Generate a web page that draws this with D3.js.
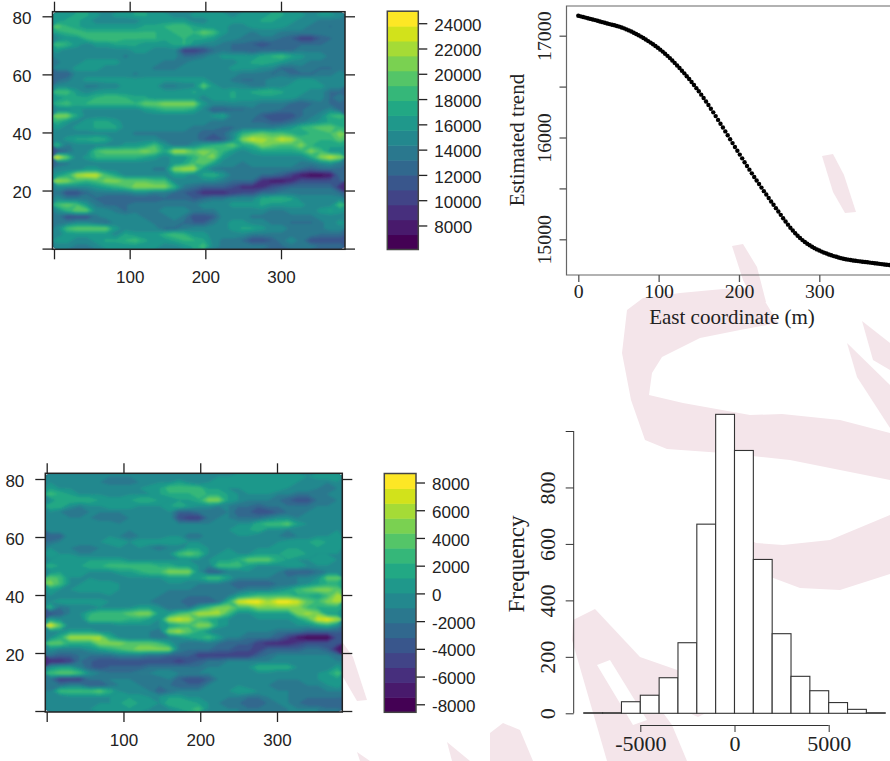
<!DOCTYPE html>
<html>
<head>
<meta charset="utf-8">
<script src="https://cdn.jsdelivr.net/npm/d3@7"></script>
<style>
html,body{margin:0;padding:0;background:#fff;overflow:hidden}
svg{display:block}
</style>
</head>
<body>
<svg id="fig" width="890" height="761"></svg>
<script>
// estimated field, values in thousands, top row is north
var fieldValues = [
[16,16,17,17,16,15,16,16,17,17,16,16,15,15,16,16,16,16,15,16,16,16,17,17,16,16,15,16,16,15],
[16,17,17,16,15,15,15,15,15,16,16,16,16,16,15,15,16,16,16,16,16,17,17,16,16,15,15,14,14,14],
[20,18,17,16,16,16,16,16,16,17,17,18,19,19,17,16,16,16,15,15,16,16,16,16,15,15,14,14,13,14],
[17,18,19,18,18,18,18,18,18,18,18,17,18,18,18,20,19,16,15,15,14,15,15,14,14,14,14,14,14,14],
[15,16,16,18,19,19,19,18,18,18,18,17,17,18,17,17,16,15,15,14,14,14,14,13,12,10,10,12,13,14],
[19,18,16,15,16,16,17,17,17,16,16,16,17,18,16,15,15,14,13,13,12,11,12,13,13,13,13,13,14,14],
[16,15,15,15,15,15,15,15,16,16,15,15,15,10,10,11,13,14,13,13,12,13,13,13,13,14,14,14,14,14],
[15,15,15,15,15,15,15,14,15,15,15,15,15,13,13,14,15,16,16,16,16,17,18,19,17,16,15,15,14,14],
[14,15,15,16,16,16,16,15,15,15,15,14,14,14,15,15,15,15,15,16,17,18,17,16,15,15,14,14,14,14],
[15,15,16,16,16,15,15,15,15,15,14,14,14,15,15,15,15,15,16,16,16,15,15,13,13,14,14,13,13,14],
[12,12,15,15,15,15,15,15,14,15,15,15,15,15,15,15,15,15,15,14,14,14,13,14,13,13,13,14,14,15],
[13,14,15,16,16,16,16,16,16,16,16,16,16,16,16,16,15,15,14,13,13,14,15,15,15,16,16,15,15,15],
[15,15,15,14,14,15,15,16,16,16,16,14,14,15,15,20,16,15,15,15,14,14,15,15,16,16,16,16,15,15],
[19,19,16,15,16,16,16,16,16,16,16,16,16,16,17,16,16,16,17,16,17,18,18,17,16,16,15,15,13,13],
[16,17,17,17,18,19,19,18,17,17,16,16,16,16,16,15,16,16,17,16,16,16,16,16,16,15,15,15,13,14],
[18,19,17,18,18,18,18,18,18,20,20,21,21,21,21,16,15,15,15,15,15,14,14,14,13,12,13,14,13,13],
[15,15,16,15,15,15,15,15,15,16,17,18,18,18,17,15,12,12,13,13,14,14,14,13,13,13,14,14,15,13],
[21,21,17,15,15,15,15,15,15,15,15,15,15,15,15,15,16,17,14,14,14,12,11,11,11,13,14,15,18,19],
[18,16,15,16,17,17,16,15,15,15,15,15,15,15,15,15,14,14,14,14,13,13,12,12,13,14,15,16,17,17],
[16,15,16,16,17,17,17,15,15,15,15,15,15,15,14,14,14,13,13,14,14,14,14,15,16,18,19,20,20,18],
[15,15,15,15,15,15,15,15,14,14,14,14,14,14,14,12,12,13,15,18,19,20,19,19,18,17,18,18,19,21],
[15,16,17,17,18,17,15,15,15,15,15,14,14,14,14,12,11,12,15,21,23,22,21,23,22,19,18,18,18,20],
[18,14,15,15,15,15,15,16,16,17,19,16,14,14,15,17,18,19,20,17,18,21,20,19,19,21,18,17,17,17],
[11,13,15,15,19,20,20,20,20,21,20,17,22,22,20,21,20,18,16,15,16,17,17,17,17,18,21,19,16,16],
[24,20,15,16,18,18,18,18,18,17,16,15,16,16,18,20,21,16,15,15,15,15,15,15,15,15,17,21,23,21],
[13,14,15,15,15,15,15,15,15,15,15,15,16,17,19,20,17,15,15,14,15,15,15,15,15,14,14,15,16,14],
[15,15,15,16,16,15,15,15,15,15,14,14,21,22,22,16,14,14,14,14,14,14,14,14,14,13,12,13,13,13],
[16,18,22,23,23,19,17,15,15,15,15,15,16,16,15,17,18,16,14,14,14,13,13,12,10,8,7,7,8,13],
[22,21,19,18,19,21,21,20,20,20,19,19,15,15,15,15,15,14,13,13,13,9,8,8,9,11,11,11,11,12],
[15,15,15,15,16,17,18,19,21,21,21,21,18,14,13,12,12,12,11,9,9,9,11,12,13,13,13,13,13,9],
[14,11,11,13,14,14,14,14,15,15,14,14,13,12,11,9,9,9,10,11,11,13,13,14,14,14,14,14,14,13],
[15,14,14,14,13,12,12,12,12,12,12,13,13,13,12,13,14,14,15,15,15,17,18,18,17,15,15,15,15,15],
[19,20,19,16,14,13,13,13,14,14,14,14,14,14,14,15,15,15,16,16,16,17,16,16,16,16,15,15,15,19],
[15,18,20,20,15,15,14,13,14,14,14,15,15,15,14,14,14,15,15,15,15,15,14,14,15,15,15,16,17,16],
[14,11,11,11,14,15,15,15,15,14,14,14,15,14,11,11,12,15,15,15,14,14,14,14,14,14,14,15,15,15],
[14,14,15,15,14,13,15,15,15,15,14,14,14,13,12,12,14,15,16,16,15,15,14,14,13,13,13,14,15,16],
[15,19,20,20,20,20,16,15,15,15,15,13,13,14,15,15,15,15,16,17,17,16,15,15,14,14,14,14,15,15],
[15,16,16,16,16,16,15,17,16,16,16,18,19,18,16,16,15,15,15,15,14,14,14,14,14,14,14,13,13,13],
[16,16,15,15,16,17,17,18,19,17,16,16,17,18,18,17,15,14,14,13,11,11,12,14,15,14,11,11,11,11],
[15,15,14,14,15,16,16,16,16,16,16,15,15,16,17,19,15,14,14,14,14,14,13,13,14,14,14,13,13,13]
]
// residual field after removing the trend, thousands
var residValues = [
[0,0,0,0,-1,-1,-1,-1,-1,0,0,-1,-1,-1,-1,0,0,0,0,1,1,1,1,1,1,1,0,1,1,1],
[0,0,-1,-1,-1,-1,-2,-2,-2,-1,-1,0,0,1,0,-1,0,1,1,1,1,1,1,1,1,0,0,-1,-1,0],
[1,0,0,0,0,0,0,0,0,0,1,1,3,3,3,3,1,1,0,0,1,1,1,1,0,0,0,-1,-2,-1],
[3,2,1,0,0,0,-1,-1,0,0,0,1,2,2,2,3,2,2,1,0,0,0,0,-1,-1,-2,-2,-2,-1,-1],
[0,2,2,2,2,1,1,1,1,2,2,1,0,1,1,2,5,5,1,0,-1,-1,-1,-2,-3,-4,-4,-2,-2,-1],
[2,2,0,-1,0,0,1,1,1,0,0,0,1,2,1,0,0,-1,-1,-2,-2,-3,-2,-2,-2,-2,-2,-1,-1,-1],
[0,-1,-2,-2,-1,-1,-1,-1,-1,-1,0,0,0,-3,-3,-2,-2,-2,-1,-3,-3,-4,-4,-3,-2,-2,-1,-1,-1,0],
[0,-1,-1,-1,-1,-2,-2,-2,-1,-1,0,0,0,-4,-5,-5,-2,-1,-1,-2,-2,-2,-1,0,0,-1,-1,-1,0,0],
[-1,-1,-1,0,0,0,0,-1,-1,-1,-1,-1,-1,-1,-1,-1,-1,0,0,0,0,2,3,3,4,1,0,-1,-1,0],
[0,0,0,0,0,0,-1,-1,-1,-1,-1,-1,-1,0,0,0,0,0,0,1,1,2,0,0,-1,-1,-1,-1,-1,0],
[-3,-3,0,0,0,0,0,-1,-2,-1,-1,-1,0,0,-2,-2,0,0,0,0,0,-1,-1,-1,-2,-1,-1,0,0,1],
[-2,-1,0,0,0,0,1,1,0,1,1,1,1,1,0,0,0,0,-1,-1,-1,0,0,0,1,1,1,2,1,1],
[0,0,-1,-2,-2,-1,-1,0,0,0,-1,-2,-1,-1,1,1,0,0,0,0,0,0,0,1,1,1,1,1,1,1],
[1,0,0,-1,-1,-1,-1,-1,0,0,0,0,0,3,4,3,0,0,1,0,0,1,1,1,2,2,1,0,0,0],
[0,1,1,1,1,1,1,1,0,0,0,0,0,0,0,0,0,1,1,2,4,4,4,2,1,0,0,1,1,0],
[2,1,0,1,2,2,3,3,3,3,3,2,2,1,1,0,-1,3,3,3,1,0,0,0,1,1,0,0,0,0],
[0,1,1,1,0,0,0,1,1,2,3,3,5,5,5,0,-3,-3,-1,-1,0,0,0,-1,-3,-3,-3,-2,-1,-1],
[4,3,0,0,0,-1,-1,-1,0,0,0,0,1,1,1,1,3,3,1,-1,-1,-1,-1,-2,-2,-1,-1,0,4,4],
[5,3,0,0,1,1,1,0,0,0,0,0,0,0,-1,-1,-1,-1,-2,-3,-3,-3,-3,-2,-2,-1,0,1,2,2],
[1,0,0,1,1,1,1,0,0,0,-1,-1,-1,-1,-1,-2,-2,-2,-2,-2,-1,-1,-1,0,1,3,4,5,5,4],
[0,-1,-1,-1,-1,-1,0,0,-1,-1,-1,-1,-2,-2,-2,-2,-2,-2,-1,1,2,3,3,3,3,2,2,1,3,6],
[0,1,1,1,1,1,0,-1,-1,-1,-1,-2,-2,-2,-3,-3,-3,-2,2,7,8,8,6,8,8,7,4,3,5,6],
[2,-2,-1,-1,-1,0,0,0,0,1,1,0,-2,-2,-2,1,3,5,5,3,3,5,5,5,5,5,3,2,2,2],
[-4,-3,-1,0,2,3,3,3,4,5,5,1,1,3,4,6,6,6,3,0,0,1,1,1,1,5,6,5,1,1],
[1,0,-1,-1,3,3,3,3,2,2,1,0,6,7,6,3,2,1,0,-1,-1,0,0,0,0,1,3,7,8,6],
[8,4,-1,-1,-1,-1,-1,0,0,0,0,0,1,2,3,5,5,1,0,0,-1,-1,-1,0,0,0,0,1,2,0],
[0,0,1,1,1,0,0,-1,-1,-1,-1,-2,5,6,4,2,0,-1,-1,-1,-1,-1,-1,-2,-2,-2,-3,-3,-3,-3],
[0,2,6,6,6,6,2,0,-1,-1,-1,-2,-1,0,1,2,3,1,-1,-1,-2,-2,-2,-3,-5,-7,-8,-8,-8,-4],
[4,4,2,2,2,5,5,5,4,4,4,3,1,-1,-2,-2,-1,-2,-3,-3,-3,-5,-6,-6,-6,-5,-4,-4,-4,-4],
[0,-1,-1,-1,0,1,2,3,4,5,5,5,5,-1,-2,-2,-2,-3,-3,-4,-4,-5,-3,-3,-3,-3,-2,-2,-3,-7],
[-2,-3,-3,-2,-2,-2,-2,-1,-1,-1,-2,-2,-3,-3,-3,-5,-5,-5,-5,-5,-5,-3,-2,-1,-1,-1,-1,-1,-1,-2],
[-6,-6,-5,-2,-3,-4,-4,-4,-4,-4,-4,-4,-4,-5,-4,-3,-2,-2,-1,-1,-1,-1,-1,-1,-1,-1,-1,-1,-1,-1],
[0,1,1,-1,-3,-4,-3,-3,-3,-3,-2,-2,-2,-2,-2,-2,-1,-1,-1,-1,0,2,2,2,2,0,-1,-1,-1,1],
[3,4,4,3,0,-1,-2,-2,-2,-1,-1,0,0,-1,-1,-1,-1,-1,-1,0,0,0,0,-1,-1,-1,-1,0,1,3],
[-2,-5,-5,-5,-2,-2,-1,-1,-1,-2,-2,-2,-1,-3,-4,-4,-3,-1,-1,-1,-1,-1,-1,-1,-1,-1,-1,0,1,1],
[-2,-2,-1,-1,-3,-3,-2,-1,-1,-1,-2,-2,-2,-3,-3,-3,-1,-1,0,0,-1,-1,-1,-2,-2,-2,-1,-1,0,1],
[-1,3,3,3,3,4,2,0,-1,-1,-1,-3,-2,-1,-1,-1,-1,0,0,1,1,0,-1,-1,-1,-2,-2,-2,-1,-1],
[-1,-1,0,0,0,0,0,1,1,1,0,0,1,1,0,0,-1,-1,-1,-1,-2,-2,-1,-1,-1,-2,-2,-2,-2,-2],
[0,0,-1,-1,0,0,0,1,2,1,1,0,2,2,2,1,0,-1,-2,-2,-3,-3,-2,-1,-1,-2,-3,-3,-3,-3],
[-1,0,0,0,0,1,1,1,1,1,0,0,0,1,2,3,0,-1,-1,-1,-2,-2,-2,-2,-1,-1,-1,-1,-2,-2]
]

var mapXTicks = [0,100,200,300]
var mapYTicks = [0,20,40,60,80]
var fieldLegendTicks = [8000,10000,12000,14000,16000,18000,20000,22000,24000]
var residLegendTicks = [-8000,-6000,-4000,-2000,0,2000,4000,6000,8000]

var trendEast = [0,3,6,9,12,15,18,21,24,27,30,33,36,39,42,45,48,51,54,57,60,63,66,69,72,75,78,81,84,87,90,93,96,99,102,105,108,111,114,117,120,123,126,129,132,135,138,141,144,147,150,153,156,159,162,165,168,171,174,177,180,183,186,189,192,195,198,201,204,207,210,213,216,219,222,225,228,231,234,237,240,243,246,249,252,255,258,261,264,267,270,273,276,279,282,285,288,291,294,297,300,303,306,309,312,315,318,321,324,327,330,333,336,339,342,345,348,351,354,357,360,363,366,369,372,375,378,381,384,387]
var trendValue = [17196,17190,17184,17178,17171,17165,17159,17153,17147,17140,17133,17127,17120,17114,17108,17102,17096,17089,17081,17072,17062,17052,17041,17029,17017,17004,16991,16977,16963,16947,16932,16916,16899,16881,16863,16844,16823,16802,16780,16757,16733,16708,16683,16656,16630,16602,16574,16545,16515,16485,16454,16421,16388,16354,16319,16283,16247,16210,16173,16135,16098,16060,16022,15983,15945,15907,15870,15832,15795,15757,15720,15684,15648,15612,15577,15543,15508,15473,15440,15406,15372,15339,15306,15273,15240,15207,15175,15144,15114,15086,15060,15035,15013,14992,14974,14957,14941,14927,14913,14901,14890,14879,14869,14860,14851,14843,14835,14828,14821,14815,14809,14804,14800,14796,14792,14789,14786,14783,14780,14777,14774,14771,14768,14765,14762,14759,14756,14753,14750,14747]
var trendXTicks = [0,100,200,300]
var trendYTicks = [15000,15500,16000,16500,17000]
var trendYLabels = [15000,16000,17000]

var histBreaks = [-8000,-7000,-6000,-5000,-4000,-3000,-2000,-1000,0,1000,2000,3000,4000,5000,6000,7000,8000]
var histCounts = [2,2,41,64,126,250,670,1059,931,545,282,131,80,38,14,2]
var histXTicks = [-5000,0,5000]
var histYTicks = [0,200,400,600,800,1000]
var histYLabels = [0,200,400,600,800]

var svg = d3.select("#fig")
var ink = "#222"

var soften = svg.append("defs").append("filter").attr("id","soften")
soften.append("feGaussianBlur").attr("stdDeviation",0.9)

// faint watermark behind the figure
var wash = "#f4e5ea"
var washShapes = [
  [[822,156],[833,154],[844,175],[856,212],[845,213],[833,192]],
  [[732,246],[743,244],[757,267],[766,302],[755,303],[743,280]],
  [[622,353],[627,310],[643,298],[680,293],[723,289],[756,287],[766,303],[778,323],[740,330],[700,338],[662,357],[652,373],[649,395],[683,403],[750,415],[782,414],[840,420],[890,433],[890,480],[790,460],[723,453],[667,449],[645,440],[631,400]],
  [[747,538],[756,543],[783,545],[830,540],[890,515],[890,574],[840,590],[800,588],[760,573]],
  [[862,321],[890,343],[890,370],[873,360]],
  [[847,343],[890,385],[890,428],[857,377]],
  [[573,620],[595,609],[640,657],[683,672],[720,667],[728,702],[698,717],[667,703],[650,695],[672,725],[687,761],[607,761],[572,640]],
  [[490,733],[503,723],[520,730],[533,761],[490,761]],
  [[343,643],[353,657],[367,700],[357,701],[343,677]],
  [[357,752],[370,761],[360,761]],
  [[447,742],[470,761],[452,761]]
]
svg.append("g").selectAll("path").data(washShapes).enter().append("path")
  .attr("d",function(d){return d3.line()(d)+"Z"})
  .attr("fill",wash)
svg.append("path").attr("d","M597,665L610,660L647,720L633,725Z").attr("fill","#fff")

function styleAxis(g,font,size){
  g.select(".domain").remove()
  g.selectAll("line").attr("stroke",ink).attr("stroke-width",1.3)
  g.selectAll("text").attr("fill",ink).style("font-family",font).style("font-size",size+"px")
}

function drawMap(id,values,box,xpos,ypos,legendBox,legendDomain,legendTicks){
  var rows = values.length, cols = values[0].length
  var flat = []
  values.forEach(function(r){ r.forEach(function(v){ flat.push(v*1000) }) })

  var x = d3.scaleLinear().domain(xpos.domain).range(xpos.range)
  var y = d3.scaleLinear().domain(ypos.domain).range(ypos.range)
  var gridX = d3.scaleLinear().domain([0,cols]).range([x.invert(box.x0),x.invert(box.x1)])
  var gridY = d3.scaleLinear().domain([0,rows]).range([y.invert(box.y0),y.invert(box.y1)])

  var nBands = 16
  var bandSize = (legendDomain[1]-legendDomain[0])/nBands
  var levels = d3.range(nBands).map(function(i){return legendDomain[0]+i*bandSize})
  levels[0] = Math.min(legendDomain[0],d3.min(flat))-1
  var color = function(i){return d3.interpolateViridis(i/(nBands-1))}

  var project = d3.geoPath(d3.geoTransform({point:function(px,py){
    this.stream.point(x(gridX(px)),y(gridY(py)))
  }}))
  var contours = d3.contours().size([cols,rows]).smooth(true).thresholds(levels)(flat)

  svg.select("defs").append("clipPath").attr("id",id)
    .append("rect").attr("x",box.x0).attr("y",box.y0).attr("width",box.x1-box.x0).attr("height",box.y1-box.y0)
  var panel = svg.append("g").attr("clip-path","url(#"+id+")")
  // sharp copy underneath so the blur does not fade out at the panel edge
  panel.append("g").selectAll("path").data(contours).enter().append("path")
    .attr("d",project)
    .attr("fill",function(d,i){return color(i)})
  panel.append("g").attr("filter","url(#soften)").selectAll("path").data(contours).enter().append("path")
    .attr("d",project)
    .attr("fill",function(d,i){return color(i)})

  var labelFont = "Liberation Sans, Arial, sans-serif"
  var tickLen = 10
  svg.append("g").attr("transform","translate(0,"+box.y1+")")
    .call(d3.axisBottom(x).tickValues(mapXTicks).tickSize(tickLen).tickPadding(12).tickFormat(function(d){return d==0?"":d}))
    .call(styleAxis,labelFont,17)
  svg.append("g").attr("transform","translate(0,"+box.y0+")")
    .call(d3.axisTop(x).tickValues(mapXTicks).tickSize(tickLen).tickFormat(""))
    .call(styleAxis,labelFont,17)
  svg.append("g").attr("transform","translate("+box.x0+",0)")
    .call(d3.axisLeft(y).tickValues(mapYTicks).tickSize(tickLen).tickPadding(11).tickFormat(function(d){return d==0?"":d}))
    .call(styleAxis,labelFont,17)
    .selectAll("text").attr("dy","0.42em")
  svg.append("g").attr("transform","translate("+box.x1+",0)")
    .call(d3.axisRight(y).tickValues(mapYTicks).tickSize(tickLen).tickFormat(""))
    .call(styleAxis,labelFont,17)
  svg.append("rect").attr("x",box.x0).attr("y",box.y0).attr("width",box.x1-box.x0).attr("height",box.y1-box.y0)
    .attr("fill","none").attr("stroke",ink).attr("stroke-width",1.5)

  // colour key
  var key = d3.scaleLinear().domain(legendDomain).range([legendBox.y1,legendBox.y0])
  svg.append("g").selectAll("rect").data(d3.range(nBands)).enter().append("rect")
    .attr("x",legendBox.x0)
    .attr("width",legendBox.x1-legendBox.x0)
    .attr("y",function(i){return key(legendDomain[0]+(i+1)*bandSize)})
    .attr("height",function(i){return key(legendDomain[0]+i*bandSize)-key(legendDomain[0]+(i+1)*bandSize)+.5})
    .attr("fill",color)
  svg.append("g").attr("transform","translate("+legendBox.x1+",0)")
    .call(d3.axisRight(key).tickValues(legendTicks).tickSize(9).tickPadding(7).tickFormat(function(d){return d}))
    .call(styleAxis,labelFont,17)
    .selectAll("text").attr("dy","0.42em")
  svg.append("rect").attr("x",legendBox.x0).attr("y",legendBox.y0).attr("width",legendBox.x1-legendBox.x0).attr("height",legendBox.y1-legendBox.y0)
    .attr("fill","none").attr("stroke","#444").attr("stroke-width",1.5)
}

drawMap("clipField",fieldValues,{x0:52.5,x1:345,y0:11.7,y1:249.3},
  {domain:[0,300],range:[54,281]},{domain:[0,80],range:[248.6,16.3]},
  {x0:387.3,x1:418.3,y0:11.2,y1:249.5},[6100,24950],fieldLegendTicks)

drawMap("clipResid",residValues,{x0:45.3,x1:342.3,y0:473.3,y1:712},
  {domain:[0,300],range:[46.7,277]},{domain:[0,80],range:[711,479]},
  {x0:384.3,x1:416,y0:473.5,y1:712.3},[-8578,8650],residLegendTicks)

// trend panel
var serif = "Liberation Serif, Times New Roman, serif"
var tx = d3.scaleLinear().domain([0,300]).range([578.3,819.3])
var ty = d3.scaleLinear().domain([15000,17000]).range([239.3,35.7])
svg.append("path").attr("d","M890,6H566.5V275H890").attr("fill","none").attr("stroke","#666").attr("stroke-width",1.2)
svg.append("g").selectAll("circle").data(trendEast).enter().append("circle")
  .attr("cx",function(d){return tx(d)})
  .attr("cy",function(d,i){return ty(trendValue[i])})
  .attr("r",2.2)
  .attr("fill","#000")
svg.append("g").attr("transform","translate(0,275)")
  .call(d3.axisBottom(tx).tickValues(trendXTicks).tickSize(7).tickPadding(2))
  .call(styleAxis,serif,19.8)
  .selectAll("line").attr("stroke","#555")
svg.append("g").attr("transform","translate(566.5,0)")
  .call(d3.axisLeft(ty).tickValues(trendYTicks).tickSize(7).tickFormat(function(d){return trendYLabels.indexOf(d)<0?"":d}))
  .call(styleAxis,serif,19.8)
  .call(function(g){
    g.selectAll("line").attr("stroke","#555")
    g.selectAll("text").attr("x",0).attr("y",0).attr("dy",0)
      .attr("text-anchor","middle")
      .attr("transform","translate(-16,0) rotate(-90)")
  })
svg.append("text").attr("x",732).attr("y",323.5).attr("text-anchor","middle")
  .style("font-family",serif).style("font-size","21px").attr("fill",ink)
  .text("East coordinate (m)")
svg.append("text").attr("transform","translate(524,140) rotate(-90)").attr("text-anchor","middle")
  .style("font-family",serif).style("font-size","21px").attr("fill",ink)
  .text("Estimated trend")

// histogram of the residuals
var hx = d3.scaleLinear().domain([-5000,5000]).range([640.3,828.7])
var hy = d3.scaleLinear().domain([0,1000]).range([713.3,431])
svg.append("g").selectAll("rect").data(histCounts).enter().append("rect")
  .attr("x",function(d,i){return hx(histBreaks[i])})
  .attr("width",function(d,i){return hx(histBreaks[i+1])-hx(histBreaks[i])})
  .attr("y",function(d){return hy(d)})
  .attr("height",function(d){return hy(0)-hy(d)})
  .attr("fill","#fff")
  .attr("stroke","#333")
  .attr("stroke-width",1.1)
svg.append("g").attr("transform","translate(0,725)")
  .call(d3.axisBottom(hx).tickValues(histXTicks).tickSize(7).tickPadding(3).tickFormat(function(d){return d}))
  .call(function(g){
    g.selectAll("line").attr("stroke","#333")
    g.select(".domain").attr("stroke","#333").attr("d","M"+hx(-5000)+",0.5H"+hx(5000))
    g.selectAll("text").attr("fill",ink).style("font-family",serif).style("font-size","22px")
  })
svg.append("g").attr("transform","translate(573.7,0)")
  .call(d3.axisLeft(hy).tickValues(histYTicks).tickSize(8).tickFormat(function(d){return histYLabels.indexOf(d)<0?"":d}))
  .call(function(g){
    g.selectAll("line").attr("stroke","#333")
    g.select(".domain").attr("stroke","#333").attr("d","M0,"+hy(0)+"V"+hy(1000))
    g.selectAll("text").attr("x",0).attr("y",0).attr("dy",0).attr("text-anchor","middle")
      .attr("fill",ink).style("font-family",serif).style("font-size","22px")
      .attr("transform","translate(-19,0) rotate(-90)")
  })
svg.append("text").attr("transform","translate(524,564) rotate(-90)").attr("text-anchor","middle")
  .style("font-family",serif).style("font-size","23px").attr("fill",ink)
  .text("Frequency")
</script>
</body>
</html>
